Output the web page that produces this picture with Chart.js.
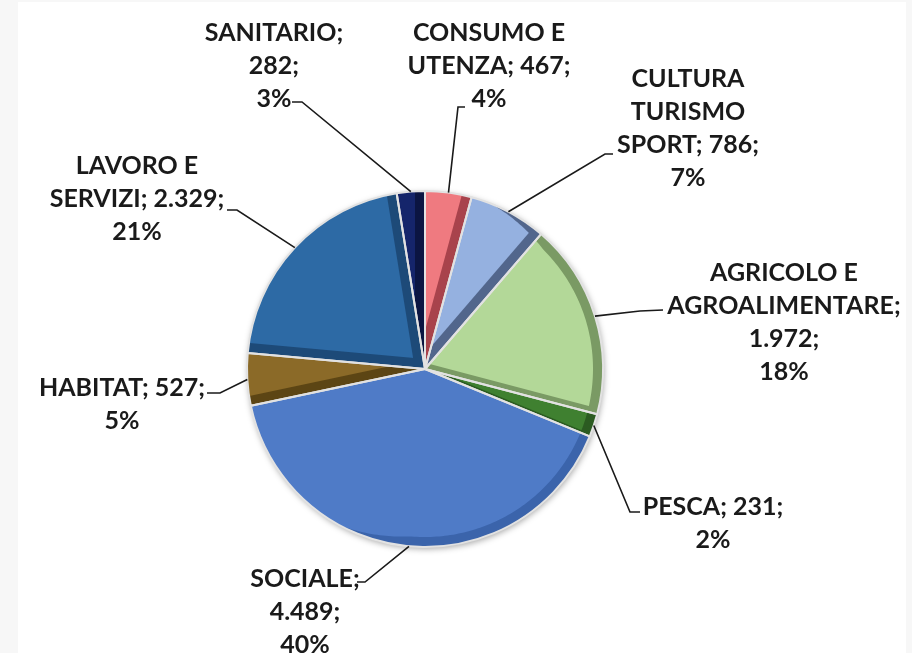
<!DOCTYPE html>
<html><head><meta charset="utf-8">
<script src="https://cdn.jsdelivr.net/npm/chart.js@4.4.1/dist/chart.umd.min.js"></script>
<style>
html,body{margin:0;padding:0;background:#f7f7f7;overflow:hidden;}
#wrap{position:relative;width:912px;height:653px;}
#panel{position:absolute;left:18px;top:2px;width:888px;height:651px;background:#fff;}
#cv{position:absolute;left:0;top:0;width:912px;height:653px;}
</style></head><body>
<div id="wrap"><div id="panel"></div><div id="cv"><canvas id="c"></canvas></div></div>
<script>
// ---- data ----
const categories = ['CONSUMO E UTENZA','CULTURA TURISMO SPORT','AGRICOLO E AGROALIMENTARE','PESCA','SOCIALE','HABITAT','LAVORO E SERVIZI','SANITARIO'];
const values = [467, 786, 1972, 231, 4489, 527, 2329, 282];
const percents = ['4%', '7%', '18%', '2%', '40%', '5%', '21%', '3%'];

// ---- styles ----
const faceColors = ['#ef7a80','#95b1e0','#b3d898','#3f8030','#4f7bc7','#8b6a28','#2d6aa5','#15256b'];
const bandColors = ['#a8434c','#52668c','#7a9a64','#2b5b21','#3b64ab','#5c4514','#1d4a78','#0b1542'];
// tokens per line of each label
const wraps = [[2,2,1],[1,1,2,1],[2,1,1,1],[2,1],[1,1,1],[2,1],[2,2,1],[1,1,1]];
// label block position relative to pie centre: [centre x, first line y]
const labelPos = [[64,-336],[263,-290],[359,-96],[288,138],[-120,210],[-303,19],[-288,-203],[-151,-336]];
// leader line elbow and end, relative to pie centre
const leaderPts = [
  [[33,-262],[40,-262]],
  [[180,-215],[188,-215]],
  [[215,-58],[238,-59]],
  [[205,143],[215,143]],
  [[-60,213],[-68,213]],
  [[-205,24],[-218,24]],
  [[-188,-159],[-198,-159]],
  [[-123,-267],[-133,-267]]
];

function fmt(n){ return String(n).replace(/\B(?=(\d{3})+(?!\d))/g,'.'); }
function labelLines(i){
  const toks = categories[i].split(' ');
  toks[toks.length-1] += ';';
  toks.push(fmt(values[i]) + ';');
  toks.push(percents[i]);
  const lines = []; let k = 0;
  for (const n of wraps[i]) { lines.push(toks.slice(k, k+n).join(' ')); k += n; }
  return lines;
}

function wedge(ctx, x, y, r, a0, a1){
  ctx.beginPath(); ctx.moveTo(x,y); ctx.arc(x,y,r,a0,a1); ctx.closePath();
}
const LX = 0.906, LY = 0.423, BW = 10;
function f(v){ return Math.max(0, Math.min(1, v*2.5 + 0.15)); }
function halfPlaneClip(ctx, cx, cy, nx, ny, ux, uy, w){
  const qx = cx - w*nx, qy = cy - w*ny, B = 3000;
  ctx.beginPath();
  ctx.moveTo(qx - B*ux, qy - B*uy);
  ctx.lineTo(qx + B*ux, qy + B*uy);
  ctx.lineTo(qx + B*ux - B*nx, qy + B*uy - B*ny);
  ctx.lineTo(qx - B*ux - B*nx, qy - B*uy - B*ny);
  ctx.closePath(); ctx.clip();
}

const bevelPlugin = {
  id:'bevel',
  beforeDatasetsDraw(chart){
    const ctx = chart.ctx; const el = chart.getDatasetMeta(0).data[0];
    if(!el) return;
    const p = el.getProps(['x','y','outerRadius'], true);
    ctx.save();
    ctx.shadowColor = 'rgba(0,0,0,0.35)'; ctx.shadowBlur = 6; ctx.shadowOffsetX = 1; ctx.shadowOffsetY = 2;
    ctx.beginPath(); ctx.arc(p.x,p.y,p.outerRadius,0,Math.PI*2); ctx.fillStyle='#ddd'; ctx.fill();
    ctx.restore();
  },
  afterDatasetsDraw(chart){
    const ctx = chart.ctx; const meta = chart.getDatasetMeta(0);
    meta.data.forEach((el,i)=>{
      const p = el.getProps(['x','y','startAngle','endAngle','outerRadius'], true);
      const a0 = p.startAngle, a1 = p.endAngle, r = p.outerRadius;
      const n0x = Math.sin(a0), n0y = -Math.cos(a0);
      const n1x = -Math.sin(a1), n1y = Math.cos(a1);
      const w0 = BW*f(n0x*LX+n0y*LY), w1 = BW*f(n1x*LX+n1y*LY);
      ctx.save();
      wedge(ctx,p.x,p.y,r,a0,a1); ctx.clip();
      halfPlaneClip(ctx,p.x,p.y,n0x,n0y,Math.cos(a0),Math.sin(a0),w0);
      halfPlaneClip(ctx,p.x,p.y,n1x,n1y,Math.cos(a1),Math.sin(a1),w1);
      ctx.beginPath(); ctx.moveTo(p.x,p.y);
      const steps = Math.max(8, Math.ceil((a1-a0)*60));
      for(let s=0;s<=steps;s++){
        const t = a0 + (a1-a0)*s/steps;
        const c = Math.cos(t), sn = Math.sin(t);
        const rr = r - BW*f(c*LX+sn*LY);
        ctx.lineTo(p.x + rr*c, p.y + rr*sn);
      }
      ctx.closePath();
      ctx.fillStyle = faceColors[i]; ctx.fill();
      ctx.restore();
    });
    meta.data.forEach((el)=>{
      const p = el.getProps(['x','y','startAngle','endAngle','outerRadius'], true);
      ctx.save();
      wedge(ctx,p.x,p.y,p.outerRadius,p.startAngle,p.endAngle);
      ctx.strokeStyle='#e2e2e2'; ctx.lineWidth=2; ctx.lineJoin='round'; ctx.stroke();
      ctx.restore();
    });
    // labels & leader lines
    meta.data.forEach((el,i)=>{
      const p = el.getProps(['x','y','startAngle','endAngle','outerRadius'], true);
      const mid = (p.startAngle+p.endAngle)/2;
      const ex = p.x + Math.cos(mid)*p.outerRadius, ey = p.y + Math.sin(mid)*p.outerRadius;
      const [e1,e2] = leaderPts[i];
      ctx.save();
      ctx.strokeStyle='#1a1a1a'; ctx.lineWidth=1.6;
      ctx.beginPath(); ctx.moveTo(ex,ey); ctx.lineTo(p.x+e1[0],p.y+e1[1]); ctx.lineTo(p.x+e2[0],p.y+e2[1]); ctx.stroke();
      ctx.fillStyle='#1a1a1a'; ctx.font='bold 25px Lato'; ctx.textAlign='center'; ctx.textBaseline='middle';
      const lines = labelLines(i);
      lines.forEach((t,j)=>ctx.fillText(t, p.x+labelPos[i][0], p.y+labelPos[i][1]+j*33));
      ctx.restore();
    });
  }
};

new Chart(document.getElementById('c'), {
  type:'pie',
  data:{ labels: categories, datasets:[{ data: values, backgroundColor: bandColors, borderWidth:0 }] },
  options:{
    responsive:true, maintainAspectRatio:false, animation:false,
    layout:{ padding:{ left:247, top:191, right:309, bottom:106 } },
    plugins:{ legend:{display:false}, tooltip:{enabled:false} }
  },
  plugins:[bevelPlugin]
});
</script>
</body></html>
